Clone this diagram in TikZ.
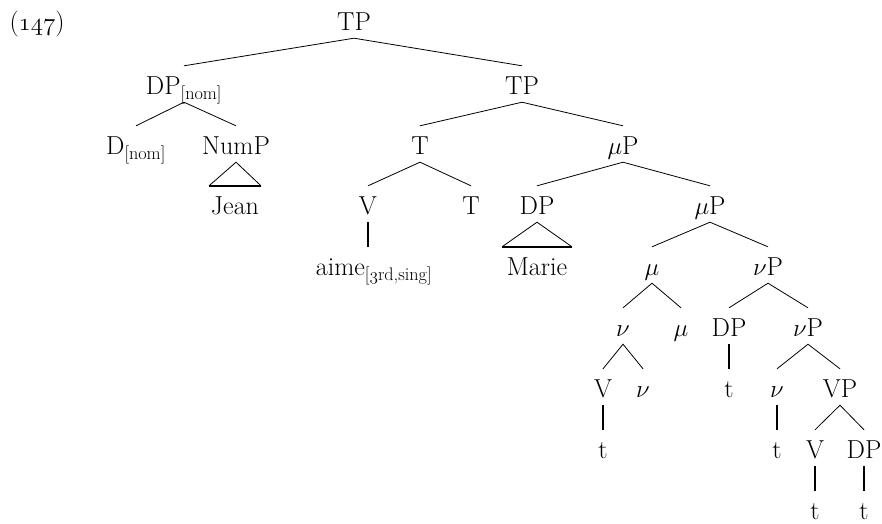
\documentclass[tikz,border=0pt]{standalone}
\usepackage{amsmath}
\begin{document}
\begin{tikzpicture}[x=1pt,y=-1pt,
  lbl/.style={anchor=base,inner sep=0pt,text height=28pt,text depth=8pt,font=\fontsize{26}{30}\selectfont},
  br/.style={line width=0.8pt},
  un/.style={line width=2.2pt},
  tribase/.style={line width=1.8pt}]
\useasboundingbox (0,0) rectangle (882,523);
\node[lbl] (ex) at (37,30) {($\mathnormal{147}$)};
\node[lbl] (tp0) at (354,30) {TP};
\node[lbl] (dpn) at (184,94) {DP$_{\text{[nom]}}$};
\node[lbl] (tp1) at (522,94) {TP};
\node[lbl] (dn) at (136,154) {D$_{\text{[nom]}}$};
\node[lbl] (nump) at (236,154) {NumP};
\node[lbl] (t1) at (420,154) {T};
\node[lbl] (mup1) at (623,154) {$\mu$P};
\node[lbl] (jean) at (235,214) {Jean};
\node[lbl] (v1) at (368,214) {V};
\node[lbl] (t2) at (471,214) {T};
\node[lbl] (dp1) at (537,214) {DP};
\node[lbl] (mup2) at (710,214) {$\mu$P};
\node[lbl] (aime) at (374,275) {aime$_{\text{[$\mathnormal{3}$rd,sing]}}$};
\node[lbl] (marie) at (537,275) {Marie};
\node[lbl] (mu1) at (652,275) {$\mu$};
\node[lbl] (vp1) at (768,275) {$\nu$P};
\node[lbl] (nu1) at (623,336) {$\nu$};
\node[lbl] (mu2) at (681,336) {$\mu$};
\node[lbl] (dp2) at (729,336) {DP};
\node[lbl] (vp2) at (808,336) {$\nu$P};
\node[lbl] (v2) at (603,397) {V};
\node[lbl] (nu2) at (643,397) {$\nu$};
\node[lbl] (tr1) at (729,397) {t};
\node[lbl] (nu3) at (777,397) {$\nu$};
\node[lbl] (vp) at (840,397) {VP};
\node[lbl] (tr2) at (603,458) {t};
\node[lbl] (tr3) at (777,458) {t};
\node[lbl] (v3) at (815,458) {V};
\node[lbl] (dp3) at (864,458) {DP};
\node[lbl] (tr4) at (815,519) {t};
\node[lbl] (tr5) at (864,519) {t};
% branches
\draw[br] (dpn.north) -- (tp0.south) -- (tp1.north);
\draw[br] (dn.north) -- (dpn.south) -- (nump.north);
\draw[br] (t1.north) -- (tp1.south) -- (mup1.north);
\draw[br] (v1.north) -- (t1.south) -- (t2.north);
\draw[br] (dp1.north) -- (mup1.south) -- (mup2.north);
\draw[br] (mu1.north) -- (mup2.south) -- (vp1.north);
\draw[br] (nu1.north) -- (mu1.south) -- (mu2.north);
\draw[br] (dp2.north) -- (vp1.south) -- (vp2.north);
\draw[br] (v2.north) -- (nu1.south) -- (nu2.north);
\draw[br] (nu3.north) -- (vp2.south) -- (vp.north);
\draw[br] (v3.north) -- (vp.south) -- (dp3.north);
% unary
\draw[un] (v1.south) -- (v1.south |- aime.north);
\draw[un] (dp2.south) -- (tr1.north);
\draw[un] (v2.south) -- (tr2.north);
\draw[un] (nu3.south) -- (tr3.north);
\draw[un] (v3.south) -- (tr4.north);
\draw[un] (dp3.south) -- (tr5.north);
% triangles
\draw[br] ([xshift=-26pt]jean.north) -- (nump.south) -- ([xshift=26pt]jean.north);
\draw[tribase] ([xshift=-26pt]jean.north) -- ([xshift=26pt]jean.north);
\draw[br] ([xshift=-35pt]marie.north) -- (dp1.south) -- ([xshift=35pt]marie.north);
\draw[tribase] ([xshift=-35pt]marie.north) -- ([xshift=35pt]marie.north);
\end{tikzpicture}
\end{document}
